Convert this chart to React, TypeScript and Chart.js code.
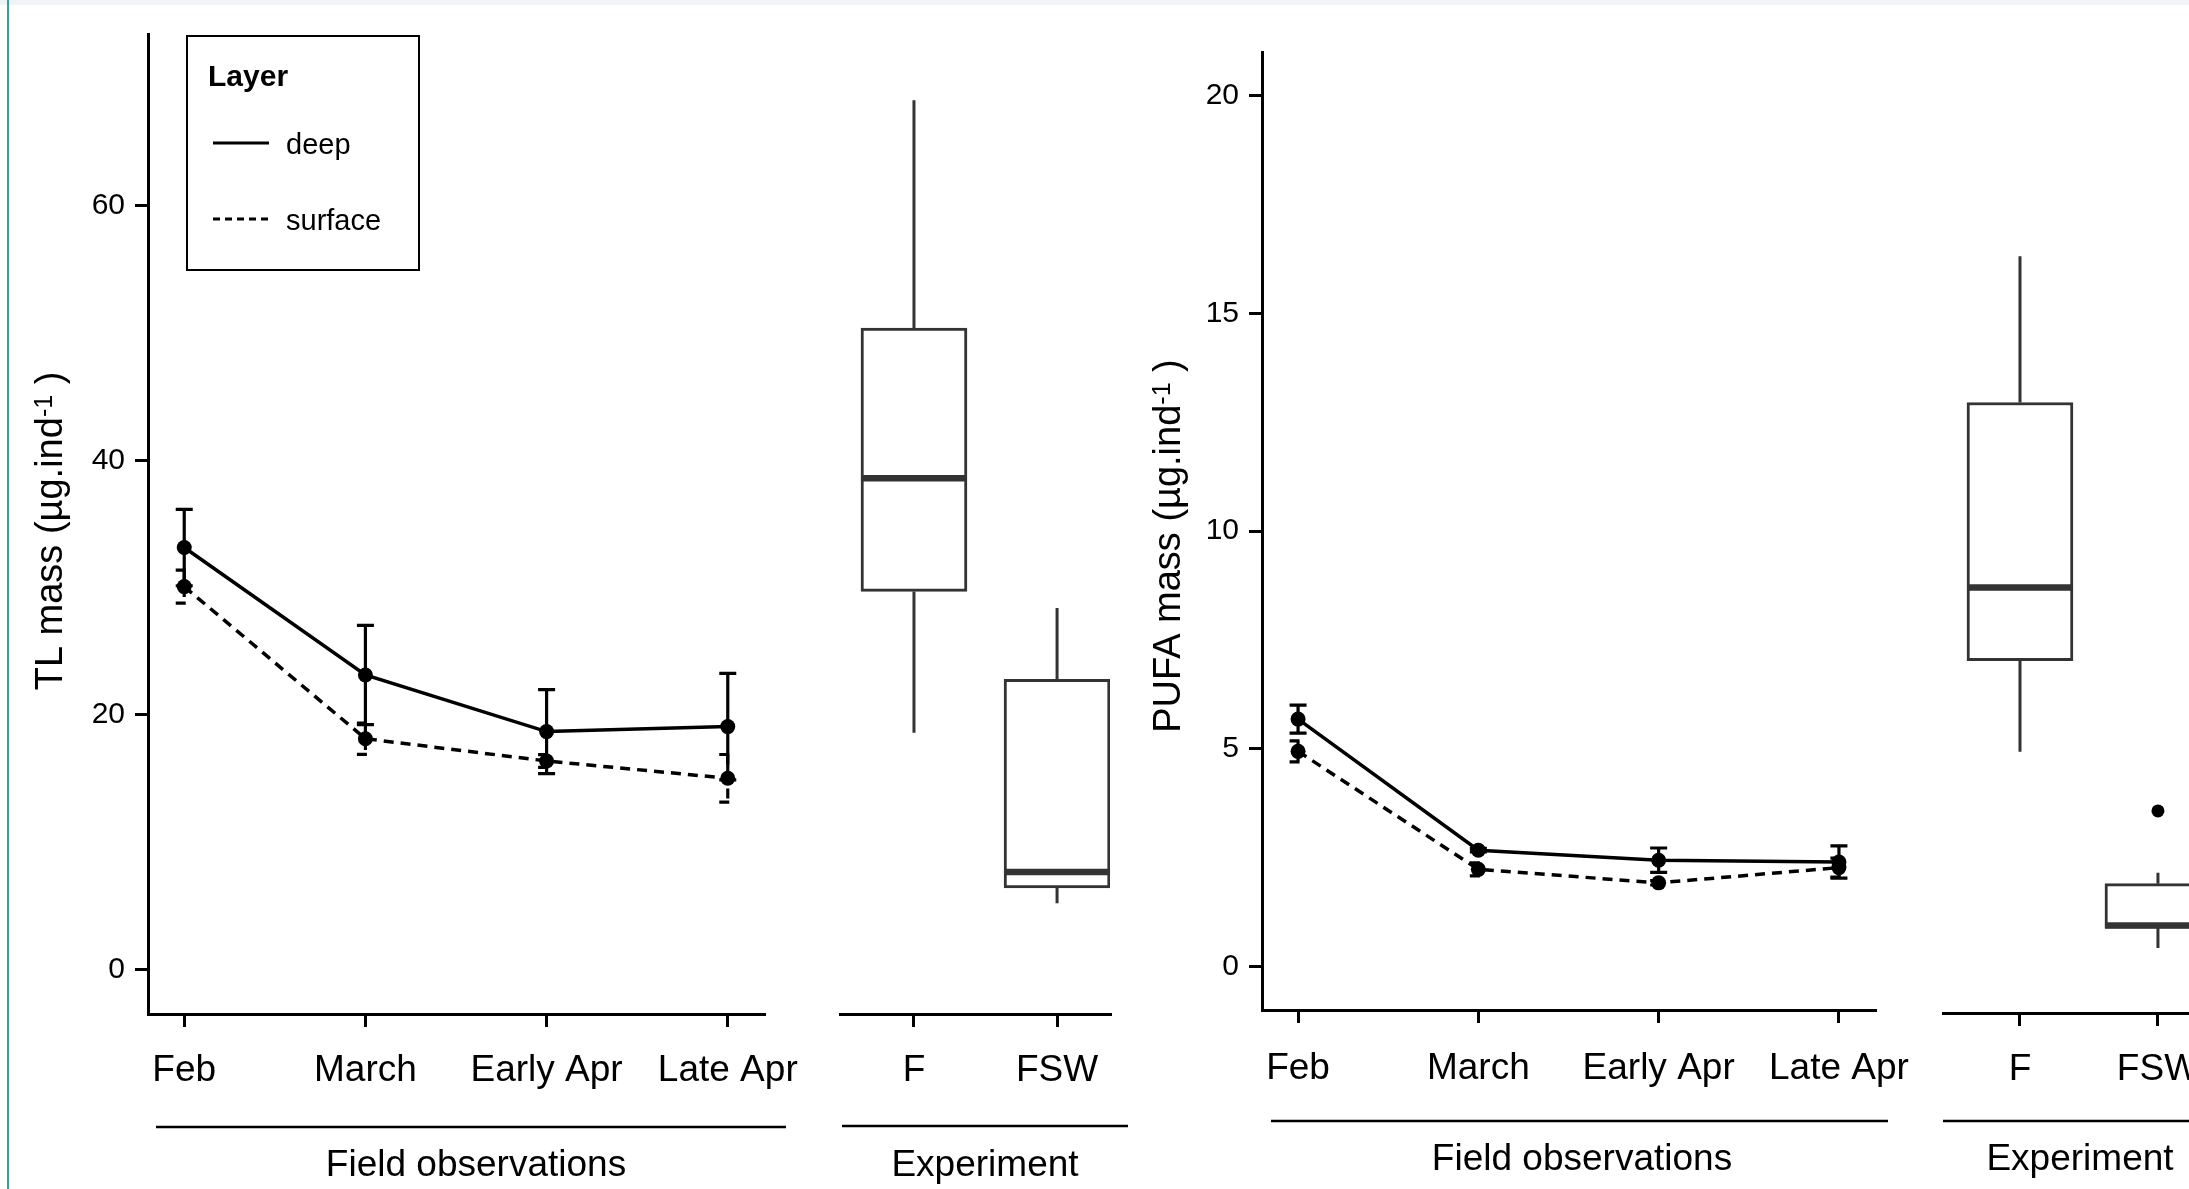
import React, { useEffect, useRef } from "react";
import { Chart, registerables } from "chart.js";

Chart.register(...registerables);

const FONT = "'Liberation Sans', Arial, Helvetica, sans-serif";
Chart.defaults.font.family = FONT;
Chart.defaults.color = "#000";

const PAGE_W = 2189;
const PAGE_H = 1189;

// ---------------- data ----------------
const fieldCategories = ["Feb", "March", "Early Apr", "Late Apr"];
const experimentCategories = ["F", "FSW"];
const legendTitle = "Layer";
const layerNames = ["deep", "surface"];
const fieldGroupLabel = "Field observations";
const experimentGroupLabel = "Experiment";

// TL mass (µg.ind-1)
const tlTicks = [0, 20, 40, 60];
const tlDeepMean = [33.15, 23.14, 18.69, 19.08];
const tlDeepErr = [3.0, 3.9, 3.3, 4.19];
const tlSurfaceMean = [30.08, 18.13, 16.38, 15.02];
const tlSurfaceErr = [1.3, 1.23, 0.5, 1.87];
// box stats: [lower whisker, Q1, median, Q3, upper whisker]
const tlBoxF = [18.6, 29.7, 38.6, 50.4, 68.3];
const tlBoxFSW = [5.2, 6.4, 7.65, 22.8, 28.4];

// PUFA mass (µg.ind-1)
const pufaTicks = [0, 5, 10, 15, 20];
const pufaDeepMean = [5.68, 2.67, 2.44, 2.4];
const pufaDeepErr = [0.32, 0.04, 0.28, 0.37];
const pufaSurfaceMean = [4.94, 2.23, 1.92, 2.27];
const pufaSurfaceErr = [0.24, 0.15, 0.05, 0.22];
const pufaBoxF = [5.0, 7.09, 8.77, 13.02, 16.38];
const pufaBoxFSW = [0.49, 0.95, 1.01, 1.97, 2.22];
const pufaOutlierFSW = [3.64];

// ---------------- helpers ----------------
const LINE_DASH = [10, 7];
const BOX_COLOR = "#333333";

function xAxis(min: number, max: number, labels: string[], height: number, padding: number) {
  return {
    type: "linear",
    min,
    max,
    offset: false,
    afterBuildTicks: (s: any) => {
      s.ticks = labels.map((_, i) => ({ value: i + 1 }));
    },
    afterFit: (s: any) => {
      s.height = height;
    },
    border: { display: true, color: "#000", width: 3 },
    grid: {
      display: true,
      offset: false,
      drawOnChartArea: false,
      drawTicks: true,
      tickLength: 13,
      color: "#000",
      lineWidth: 3,
    },
    ticks: {
      autoSkip: false,
      maxRotation: 0,
      minRotation: 0,
      padding,
      color: "#000",
      font: { family: FONT, size: 37 },
      callback: (v: number) => labels[Math.round(v) - 1] ?? "",
    },
  };
}

function yAxis(min: number, max: number, ticks: number[], width: number, display: boolean) {
  return {
    type: "linear",
    min,
    max,
    display,
    afterBuildTicks: (s: any) => {
      s.ticks = ticks.map((v) => ({ value: v }));
    },
    afterFit: (s: any) => {
      if (display) s.width = width;
    },
    border: { display: true, color: "#000", width: 3 },
    grid: {
      display: true,
      drawOnChartArea: false,
      drawTicks: true,
      tickLength: 13,
      color: "#000",
      lineWidth: 3,
    },
    ticks: { padding: 10, color: "#000", font: { family: FONT, size: 30 } },
  };
}

function drawYTitle(ctx: CanvasRenderingContext2D, baselineX: number, cy: number, pre: string, sup: string, post: string) {
  ctx.save();
  ctx.fillStyle = "#000";
  ctx.textBaseline = "alphabetic";
  ctx.textAlign = "left";
  const mainFont = `38px ${FONT}`;
  const supFont = `25px ${FONT}`;
  ctx.font = mainFont;
  const w1 = ctx.measureText(pre).width;
  const w3 = ctx.measureText(post).width;
  ctx.font = supFont;
  const w2 = ctx.measureText(sup).width;
  ctx.translate(baselineX, cy);
  ctx.rotate(-Math.PI / 2);
  let x = -(w1 + w2 + w3) / 2;
  ctx.font = mainFont;
  ctx.fillText(pre, x, 0);
  x += w1;
  ctx.font = supFont;
  ctx.fillText(sup, x, -10);
  x += w2;
  ctx.font = mainFont;
  ctx.fillText(post, x, 0);
  ctx.restore();
}

function drawGroup(
  ctx: CanvasRenderingContext2D,
  x1: number,
  x2: number,
  y: number,
  text: string,
  textX: number,
  baseline: number
) {
  ctx.save();
  ctx.strokeStyle = "#000";
  ctx.lineWidth = 2.5;
  ctx.beginPath();
  ctx.moveTo(x1, y);
  ctx.lineTo(x2, y);
  ctx.stroke();
  ctx.fillStyle = "#000";
  ctx.font = `37px ${FONT}`;
  ctx.textAlign = "center";
  ctx.textBaseline = "alphabetic";
  ctx.fillText(text, textX, baseline);
  ctx.restore();
}

function drawLegend(ctx: CanvasRenderingContext2D) {
  ctx.save();
  ctx.strokeStyle = "#000";
  ctx.lineWidth = 2;
  ctx.strokeRect(187, 36, 232, 234);
  ctx.fillStyle = "#000";
  ctx.textAlign = "left";
  ctx.textBaseline = "alphabetic";
  ctx.font = `bold 30px ${FONT}`;
  ctx.fillText(legendTitle, 208, 86);
  const rows = [143, 219];
  layerNames.forEach((name, i) => {
    ctx.lineWidth = 3;
    ctx.setLineDash(i === 0 ? [] : [7, 5]);
    ctx.beginPath();
    ctx.moveTo(213, rows[i]);
    ctx.lineTo(269, rows[i]);
    ctx.stroke();
    ctx.setLineDash([]);
    ctx.font = `29px ${FONT}`;
    ctx.fillText(name, 286, rows[i] + 11);
  });
  ctx.restore();
}

function errorBarPlugin(series: { mean: number[]; err: number[]; dash: number[] }[]) {
  return {
    id: "errorBars",
    afterDatasetsDraw(chart: any) {
      const { ctx } = chart;
      const x = chart.scales.x;
      const y = chart.scales.y;
      ctx.save();
      ctx.strokeStyle = "#000";
      ctx.lineWidth = 3.2;
      series.forEach((s) => {
        ctx.setLineDash(s.dash);
        s.mean.forEach((m, i) => {
          const px = x.getPixelForValue(i + 1);
          const top = y.getPixelForValue(m + s.err[i]);
          const bot = y.getPixelForValue(m - s.err[i]);
          ctx.beginPath();
          ctx.moveTo(px, top);
          ctx.lineTo(px, bot);
          ctx.moveTo(px - 8.5, top);
          ctx.lineTo(px + 8.5, top);
          ctx.moveTo(px - 8.5, bot);
          ctx.lineTo(px + 8.5, bot);
          ctx.stroke();
        });
      });
      ctx.restore();
    },
  };
}

function boxPlugin(boxes: number[][]) {
  return {
    id: "boxStats",
    beforeDatasetsDraw(chart: any) {
      const { ctx } = chart;
      const x = chart.scales.x;
      const y = chart.scales.y;
      ctx.save();
      ctx.strokeStyle = BOX_COLOR;
      ctx.lineWidth = 3;
      boxes.forEach((b, i) => {
        const px = x.getPixelForValue(i + 1);
        ctx.beginPath();
        ctx.moveTo(px, y.getPixelForValue(b[0]));
        ctx.lineTo(px, y.getPixelForValue(b[1]));
        ctx.moveTo(px, y.getPixelForValue(b[3]));
        ctx.lineTo(px, y.getPixelForValue(b[4]));
        ctx.stroke();
      });
      ctx.restore();
    },
    afterDatasetsDraw(chart: any) {
      const { ctx } = chart;
      const y = chart.scales.y;
      const meta = chart.getDatasetMeta(0);
      ctx.save();
      ctx.strokeStyle = BOX_COLOR;
      ctx.lineWidth = 6.5;
      meta.data.forEach((el: any, i: number) => {
        const { x: cx, width } = el.getProps(["x", "width"], true);
        const py = y.getPixelForValue(boxes[i][2]);
        ctx.beginPath();
        ctx.moveTo(cx - width / 2, py);
        ctx.lineTo(cx + width / 2, py);
        ctx.stroke();
      });
      ctx.restore();
    },
  };
}

function lineDatasets(deep: number[], surface: number[]) {
  const base = {
    borderColor: "#000",
    borderWidth: 3.5,
    pointRadius: 7.5,
    pointBackgroundColor: "#000",
    pointBorderWidth: 0,
    tension: 0,
    fill: false,
  };
  return [
    { ...base, label: layerNames[0], data: deep.map((v, i) => ({ x: i + 1, y: v })) },
    { ...base, label: layerNames[1], borderDash: LINE_DASH, data: surface.map((v, i) => ({ x: i + 1, y: v })) },
  ];
}

const commonOptions = {
  responsive: false,
  maintainAspectRatio: false,
  animation: false,
  events: [],
  plugins: { legend: { display: false }, tooltip: { enabled: false }, title: { display: false } },
};

// ---------------- chart configs ----------------
function makeTlLine() {
  return {
    type: "line",
    data: { datasets: lineDatasets(tlDeepMean, tlSurfaceMean) },
    options: {
      ...commonOptions,
      layout: { padding: { left: 0, top: 34, right: PAGE_W - 764, bottom: 0 } },
      scales: {
        x: xAxis(0.8, 4.2, fieldCategories, PAGE_H - 1014, 22),
        y: yAxis(-3.5, 73.5, tlTicks, 148, true),
      },
    },
    plugins: [
      errorBarPlugin([
        { mean: tlDeepMean, err: tlDeepErr, dash: [] },
        { mean: tlSurfaceMean, err: tlSurfaceErr, dash: LINE_DASH },
      ]),
      {
        id: "tlDecor",
        afterDraw(chart: any) {
          const ctx = chart.ctx;
          drawYTitle(ctx, 62, 531, "TL mass (µg.ind", "-1", " )");
          drawLegend(ctx);
          drawGroup(ctx, 156, 786, 1127, fieldGroupLabel, 476, 1176);
        },
      },
    ],
  };
}

function makeTlBox() {
  const boxes = [tlBoxF, tlBoxFSW];
  return {
    type: "bar",
    data: {
      datasets: [
        {
          data: boxes.map((b, i) => ({ x: i + 1, y: [b[1], b[3]] })),
          backgroundColor: "#fff",
          borderColor: BOX_COLOR,
          borderWidth: 3,
          borderSkipped: false,
          barThickness: 106,
        },
      ],
    },
    options: {
      ...commonOptions,
      layout: { padding: { left: 840, top: 34, right: PAGE_W - 1110, bottom: 0 } },
      scales: {
        x: xAxis(0.483, 2.37, experimentCategories, PAGE_H - 1014, 22),
        y: yAxis(-3.5, 73.5, tlTicks, 0, false),
      },
    },
    plugins: [
      boxPlugin(boxes),
      {
        id: "tlBoxDecor",
        afterDraw(chart: any) {
          drawGroup(chart.ctx, 842, 1128, 1126, experimentGroupLabel, 985, 1176);
        },
      },
    ],
  };
}

function makePufaLine() {
  return {
    type: "line",
    data: { datasets: lineDatasets(pufaDeepMean, pufaSurfaceMean) },
    options: {
      ...commonOptions,
      layout: { padding: { left: 1262 - 140, top: 52, right: PAGE_W - 1875, bottom: 0 } },
      scales: {
        x: xAxis(0.8, 4.2, fieldCategories, PAGE_H - 1010, 24),
        y: yAxis(-1, 21, pufaTicks, 140, true),
      },
    },
    plugins: [
      errorBarPlugin([
        { mean: pufaDeepMean, err: pufaDeepErr, dash: [] },
        { mean: pufaSurfaceMean, err: pufaSurfaceErr, dash: LINE_DASH },
      ]),
      {
        id: "pufaDecor",
        afterDraw(chart: any) {
          const ctx = chart.ctx;
          drawYTitle(ctx, 1180, 546, "PUFA mass (µg.ind", "-1", " )");
          drawGroup(ctx, 1271, 1888, 1121, fieldGroupLabel, 1582, 1170);
        },
      },
    ],
  };
}

const PUFA_BOX_CANVAS_W = 2300;

function makePufaBox() {
  const boxes = [pufaBoxF, pufaBoxFSW];
  return {
    type: "bar",
    data: {
      datasets: [
        {
          data: boxes.map((b, i) => ({ x: i + 1, y: [b[1], b[3]] })),
          backgroundColor: "#fff",
          borderColor: BOX_COLOR,
          borderWidth: 3,
          borderSkipped: false,
          barThickness: 106,
        },
        {
          type: "line",
          showLine: false,
          data: pufaOutlierFSW.map((v) => ({ x: 2, y: v })),
          pointRadius: 6.5,
          pointBackgroundColor: "#000",
          pointBorderWidth: 0,
          borderColor: "#000",
        },
      ],
    },
    options: {
      ...commonOptions,
      layout: { padding: { left: 1943, top: 55, right: PUFA_BOX_CANVAS_W - 2209, bottom: 0 } },
      scales: {
        x: xAxis(0.442, 2.37, experimentCategories, PAGE_H - 1013, 22),
        y: yAxis(-1, 21, pufaTicks, 0, false),
      },
    },
    plugins: [
      boxPlugin(boxes),
      {
        id: "pufaBoxDecor",
        afterDraw(chart: any) {
          drawGroup(chart.ctx, 1943, 2217, 1121, experimentGroupLabel, 2080, 1170);
        },
      },
    ],
  };
}

// ---------------- components ----------------
function ChartCanvas({ width, height, make }: { width: number; height: number; make: () => any }) {
  const ref = useRef<HTMLCanvasElement>(null);
  useEffect(() => {
    const chart = new Chart(ref.current as HTMLCanvasElement, make());
    return () => chart.destroy();
  }, []);
  return (
    <canvas
      ref={ref}
      width={width}
      height={height}
      style={{ position: "absolute", left: 0, top: 0, width, height, display: "block" }}
    />
  );
}

export default function App() {
  return (
    <div
      style={{
        position: "fixed",
        left: 0,
        top: 0,
        width: PAGE_W,
        height: PAGE_H,
        overflow: "hidden",
        background: "#fff",
      }}
    >
      <div style={{ position: "absolute", left: 0, top: 0, width: PAGE_W, height: 5, background: "#f1f4f7" }} />
      <div style={{ position: "absolute", left: 7, top: 0, width: 2, height: PAGE_H, background: "#33a19d" }} />
      <ChartCanvas width={PAGE_W} height={PAGE_H} make={makeTlLine} />
      <ChartCanvas width={PAGE_W} height={PAGE_H} make={makeTlBox} />
      <ChartCanvas width={PAGE_W} height={PAGE_H} make={makePufaLine} />
      <ChartCanvas width={PUFA_BOX_CANVAS_W} height={PAGE_H} make={makePufaBox} />
    </div>
  );
}
